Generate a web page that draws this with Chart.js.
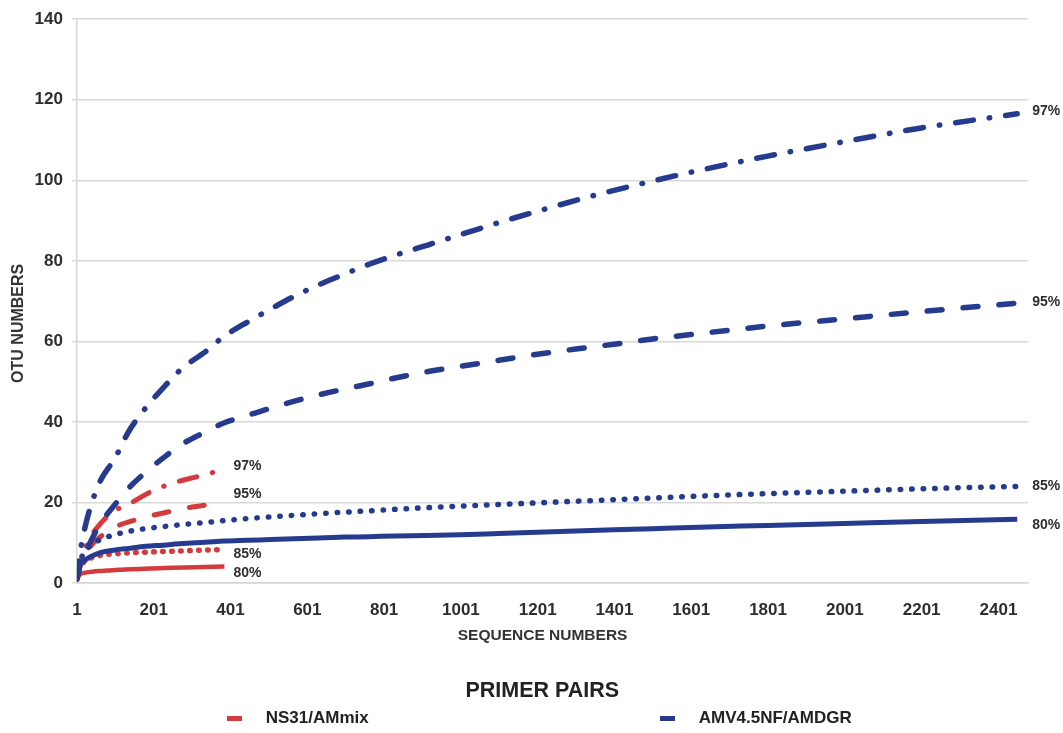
<!DOCTYPE html>
<html>
<head>
<meta charset="utf-8">
<script src="https://cdn.jsdelivr.net/npm/chart.js@4/dist/chart.umd.min.js"></script>
<style>
  html, body { margin: 0; padding: 0; background: #ffffff; }
  #wrap { width: 1063px; height: 733px; }
</style>
</head>
<body>
<div id="wrap"><canvas id="c" width="1063" height="733"></canvas></div>
<script>
// ---- data ----
const xTicks = [1, 201, 401, 601, 801, 1001, 1201, 1401, 1601, 1801, 2001, 2201, 2401];
const yTicks = [0, 20, 40, 60, 80, 100, 120, 140];

const blueX = [1, 10, 20, 35, 60, 100, 135, 180, 225, 275, 335, 385, 445, 505, 565, 630, 700, 760, 830, 910, 1000, 1100, 1200, 1300, 1400, 1500, 1600, 1800, 2000, 2200, 2450];
const blue97 = [1, 8, 13, 18.5, 25, 31, 37.5, 43.5, 48.4, 53.3, 57.4, 61.3, 64.8, 68, 71.1, 74, 76.8, 79.1, 81.4, 83.8, 86.5, 89.5, 92.3, 95, 97.5, 99.8, 102, 106, 109.6, 113, 116.5];
const blue95 = [1, 5.5, 7.5, 10, 14.5, 19.5, 23.5, 27.5, 31, 34.5, 37.5, 39.8, 41.6, 43.4, 45.1, 46.7, 48.2, 49.4, 50.9, 52.4, 53.8, 55.3, 56.8, 58.1, 59.3, 60.6, 61.7, 63.8, 65.6, 67.4, 69.5];
const blue85 = [1, 5.5, 7.5, 9.2, 10.7, 12, 12.8, 13.5, 14, 14.5, 15, 15.5, 16, 16.4, 16.8, 17.2, 17.6, 17.9, 18.3, 18.7, 19.1, 19.5, 19.9, 20.3, 20.7, 21.1, 21.5, 22.2, 22.8, 23.4, 24];
const blue80 = [1, 4.5, 5.5, 6.5, 7.5, 8.2, 8.6, 9.1, 9.4, 9.8, 10.1, 10.4, 10.6, 10.8, 11, 11.2, 11.4, 11.5, 11.7, 11.8, 12, 12.3, 12.6, 12.9, 13.2, 13.5, 13.8, 14.3, 14.8, 15.3, 15.8];

const redX = [1, 10, 20, 40, 60, 80, 110, 140, 190, 250, 310, 385];
const red97 = [1, 5, 8, 12, 14.5, 16.5, 18.5, 19.8, 22.5, 24.8, 26.3, 28.2];
const red95 = [1, 4.5, 6.5, 9.5, 11.3, 12.8, 14.3, 15.3, 16.6, 17.9, 19, 20];
const red85 = [1, 4, 5.3, 6.3, 6.8, 7.1, 7.3, 7.5, 7.7, 7.9, 8.1, 8.3];
const red80 = [1, 2.2, 2.5, 2.8, 3, 3.1, 3.3, 3.4, 3.6, 3.8, 3.9, 4.1];

const endLabelText = ['97%', '95%', '85%', '80%'];
const legendNames = ['NS31/AMmix', 'AMV4.5NF/AMDGR'];
const legendTitle = 'PRIMER PAIRS';
const xTitle = 'SEQUENCE NUMBERS';
const yTitle = 'OTU NUMBERS';

// ---- styles ----
const BLUE = '#263b8d';
const RED = '#d43b3d';
const FONT = '"Liberation Sans", Arial, sans-serif';
const EN = '\u2002';

function pts(xs, ys) { return xs.map((x, i) => ({ x: x, y: ys[i] })); }

function marker(color) {
  const c = document.createElement('canvas');
  c.width = 15; c.height = 5;
  const g = c.getContext('2d');
  g.fillStyle = color;
  g.fillRect(0, 0, 15, 5);
  return c;
}
const blank = document.createElement('canvas');
blank.width = 1; blank.height = 1;

const styles = {
  97: { dash: [18, 16, 0.5, 16], cap: 'round' },
  95: { dash: [15, 21], cap: 'round' },
  85: { dash: [0.5, 11], cap: 'round' },
  80: { dash: [], cap: 'butt' }
};

function ds(label, data, color, st, width, labelText, dx, dy, dotGap) {
  return {
    label: label,
    data: data,
    borderColor: color,
    backgroundColor: color,
    borderWidth: width,
    borderDash: dotGap ? [0.5, dotGap] : st.dash,
    borderCapStyle: st.cap,
    borderJoinStyle: 'round',
    pointRadius: 0,
    pointHoverRadius: 0,
    fill: false,
    cubicInterpolationMode: 'monotone',
    endLabel: labelText,
    labelDx: dx,
    labelDy: dy
  };
}

const datasets = [
  ds('AMV4.5NF/AMDGR 97%', pts(blueX, blue97), BLUE, styles[97], 5.5, endLabelText[0], 15, -2.5),
  ds('AMV4.5NF/AMDGR 95%', pts(blueX, blue95), BLUE, styles[95], 5.5, endLabelText[1], 15, -1),
  ds('AMV4.5NF/AMDGR 85%', pts(blueX, blue85), BLUE, styles[85], 5.5, endLabelText[2], 15, 0),
  ds('AMV4.5NF/AMDGR 80%', pts(blueX, blue80), BLUE, styles[80], 5, endLabelText[3], 15, 6),
  ds('NS31/AMmix 97%', pts(redX, red97), RED, styles[97], 5, endLabelText[0], 9, -3),
  ds('NS31/AMmix 95%', pts(redX, red95), RED, styles[95], 5, endLabelText[1], 9, -8),
  ds('NS31/AMmix 85%', pts(redX, red85), RED, styles[85], 5.5, endLabelText[2], 9, 5, 8.5),
  ds('NS31/AMmix 80%', pts(redX, red80), RED, styles[80], 4.5, endLabelText[3], 9, 7)
];

const endLabels = {
  id: 'endLabels',
  afterDatasetsDraw(chart) {
    const ctx = chart.ctx;
    chart.data.datasets.forEach((d, i) => {
      const meta = chart.getDatasetMeta(i);
      const p = meta.data[meta.data.length - 1];
      if (!p) return;
      ctx.save();
      ctx.font = 'bold 14px ' + FONT;
      ctx.fillStyle = '#2e2e2e';
      ctx.textAlign = 'left';
      ctx.textBaseline = 'middle';
      ctx.fillText(d.endLabel, p.x + d.labelDx, p.y + d.labelDy);
      ctx.restore();
    });
  }
};

new Chart(document.getElementById('c'), {
  type: 'line',
  data: { datasets: datasets },
  options: {
    responsive: false,
    animation: false,
    parsing: true,
    layout: { padding: { top: 19, left: 0, right: 0, bottom: -4 } },
    plugins: {
      tooltip: { enabled: false },
      legend: {
        position: 'bottom',
        align: 'center',
        title: {
          display: true,
          text: EN + EN + legendTitle,
          color: '#222222',
          font: { family: FONT, size: 21.5, weight: 'bold', lineHeight: 1.0 },
          padding: { top: 0, bottom: -1 }
        },
        labels: {
          usePointStyle: true,
          pointStyleWidth: 46,
          padding: 9,
          color: '#222222',
          font: { family: FONT, size: 17, weight: 'bold' },
          generateLabels: () => [
            { text: legendNames[0], pointStyle: marker(RED), fillStyle: RED, strokeStyle: RED, lineWidth: 0, fontColor: '#222222', hidden: false, datasetIndex: 4 },
            { text: ' '.repeat(43), pointStyle: blank, fillStyle: 'rgba(0,0,0,0)', strokeStyle: 'rgba(0,0,0,0)', lineWidth: 0, fontColor: 'rgba(0,0,0,0)', hidden: false },
            { text: legendNames[1], pointStyle: marker(BLUE), fillStyle: BLUE, strokeStyle: BLUE, lineWidth: 0, fontColor: '#222222', hidden: false, datasetIndex: 0 }
          ]
        },
        onClick: () => {}
      }
    },
    scales: {
      x: {
        type: 'linear',
        min: 1,
        max: 2478,
        afterBuildTicks: (s) => { s.ticks = xTicks.map(v => ({ value: v })); },
        afterFit: (s) => { s.paddingRight = 35; s.paddingLeft = 0; },
        grid: { display: false, drawTicks: false },
        border: { display: true, color: '#d6d6d6', width: 1.5 },
        ticks: {
          autoSkip: false,
          maxRotation: 0,
          padding: 17,
          color: '#2e2e2e',
          font: { family: FONT, size: 17, weight: 'bold' },
          callback: (v) => String(v)
        },
        title: {
          display: true,
          text: xTitle + EN + EN + ' ',
          color: '#333333',
          font: { family: FONT, size: 15.5, weight: 'bold' },
          padding: { top: -10.7, bottom: 35.2 }
        }
      },
      y: {
        min: 0,
        max: 140,
        afterBuildTicks: (s) => { s.ticks = yTicks.map(v => ({ value: v })); },
        grid: { color: '#d9d9d9', lineWidth: 1.5, tickLength: 5 },
        border: { display: true, color: '#d6d6d6', width: 1.5 },
        ticks: {
          padding: 9,
          color: '#2e2e2e',
          font: { family: FONT, size: 17, weight: 'bold' }
        },
        title: {
          display: true,
          text: yTitle + EN + EN + EN + EN + EN + ' ',
          color: '#333333',
          font: { family: FONT, size: 16, weight: 'bold' },
          padding: { top: 9.4, bottom: -3 }
        }
      }
    }
  },
  plugins: [endLabels]
});
</script>
</body>
</html>
